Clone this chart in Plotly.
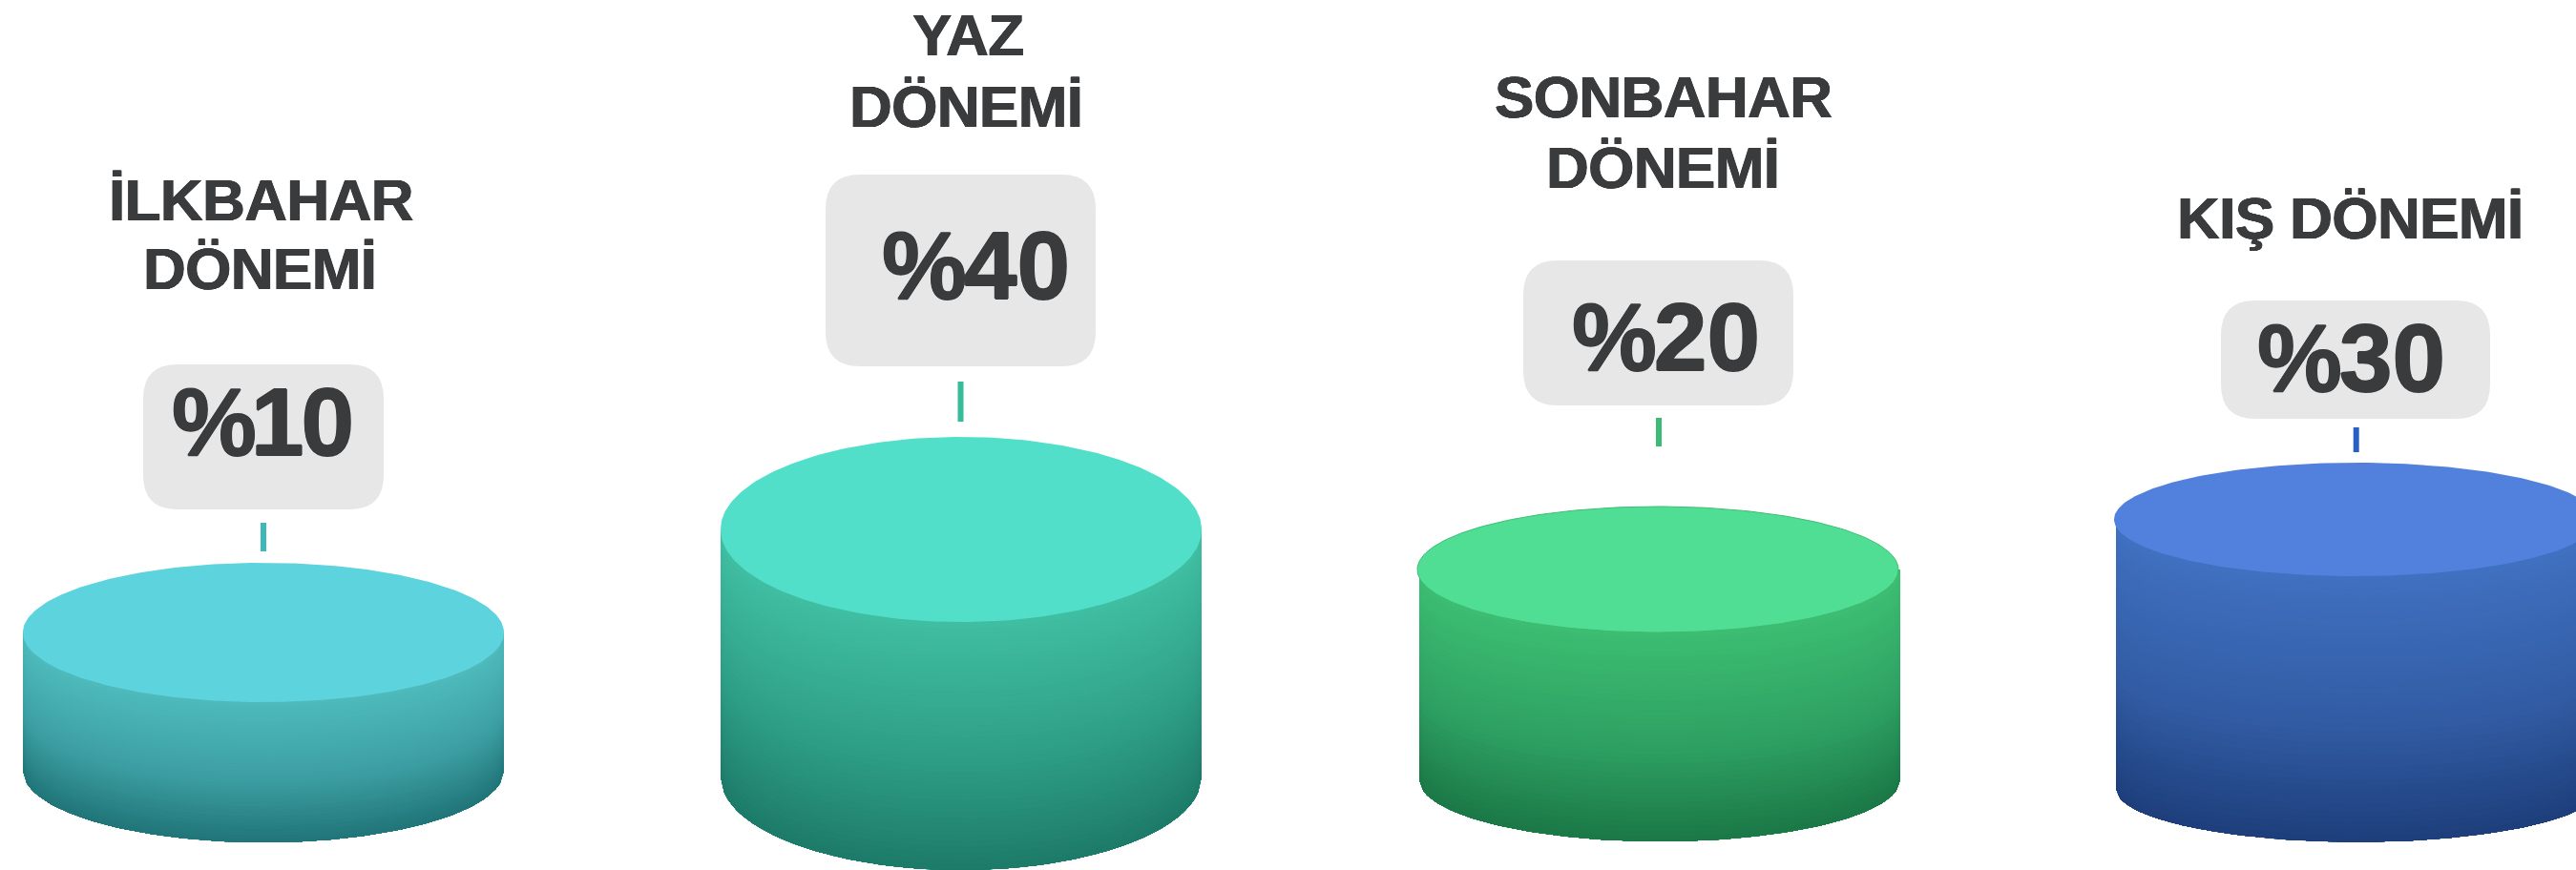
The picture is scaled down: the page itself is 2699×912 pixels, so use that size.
import numpy as np
import plotly.graph_objects as go

# --- chart content
season_lines = [["İLKBAHAR", "DÖNEMİ"], ["YAZ", "DÖNEMİ"], ["SONBAHAR", "DÖNEMİ"], ["KIŞ DÖNEMİ"]]
percent_values = [10, 40, 20, 30]
percent_labels = [f"%{v}" for v in percent_values]

# --- layout of the infographic, in page pixels (axes run 0..2699 and 912..0)
W, H = 2699, 912
top_cx = [276, 1007, 1737, 2468]
side_cx = [276, 1007, 1739, 2470]
rx = [252, 252, 252, 253]
top_cy = [663, 555, 597, 544.5]
top_ry = [73, 97, 66, 59.5]
base_cy = [807.5, 814, 817, 826.5]
base_ry = [75.5, 98, 65, 56]
box_x = [(150, 402), (865, 1148), (1596, 1879), (2327, 2609)]
box_y = [(382, 534), (183, 384), (273, 425), (315, 439)]
box_r = [36, 36, 36, 36]
tick_x = [276, 1006.5, 1738, 2468.7]
tick_y = [(548, 578), (400, 442), (438, 468), (448, 474)]
title_cx = [[273.5, 271.5], [1014.5, 1012], [1742.5, 1742], [2462]]
title_base = [[231, 303], [58, 132.5], [123, 197], [250]]
pct_cx = [275, 1022.5, 1745, 2463]
pct_base = [476.5, 313, 387.5, 410]
sign_spacing = [-6, -3, -3, -3]
digit_spacing = [-3, 0, 0, 0]
title_spacing = -0.6

top_colors = ["#5cd3dd", "#52dfca", "#50de94", "#5280dd"]
top_edge = [0, 0, 1, 0]
side_light = [(78, 186, 188), (64, 190, 162), (60, 189, 114), (64, 112, 192)]
side_mid = [(60, 158, 162), (46, 158, 134), (46, 160, 98), (50, 92, 164)]
side_dark = [(32, 116, 119), (29, 122, 105), (27, 119, 70), (29, 62, 122)]
tick_colors = ["#3fb8b8", "#37bc9b", "#3bbb76", "#2860bf"]
box_color = "#e7e7e7"
text_color = "#3a3b3d"
font_family = "Liberation Sans, Arial, sans-serif"
title_size = 62
pct_size = 100
bands = 44
title_shadow = f"0.6px 0 0 {text_color}, -0.6px 0 0 {text_color}, 0 0.4px 0 {text_color}, 0 -0.4px 0 {text_color}"
pct_shadow = f"0.8px 0 0 {text_color}, -0.8px 0 0 {text_color}, 0 0.6px 0 {text_color}, 0 -0.6px 0 {text_color}"


def mix(a, b, t):
    return tuple(a[i] + (b[i] - a[i]) * t for i in range(3))


def rounded_path(x0, x1, y0, y1, r):
    return (
        f"M{x0 + r},{y0} L{x1 - r},{y0} Q{x1},{y0} {x1},{y0 + r} "
        f"L{x1},{y1 - r} Q{x1},{y1} {x1 - r},{y1} L{x0 + r},{y1} "
        f"Q{x0},{y1} {x0},{y1 - r} L{x0},{y0 + r} Q{x0},{y0} {x0 + r},{y0} Z"
    )


def spaced(text, px):
    return f'<span style="letter-spacing:{px}px"><b>{text}</b></span>'


fig = go.Figure()
shapes = []
annotations = []

for i in range(len(percent_values)):
    # cylinder wall: crescent bands painted top to bottom so the shading follows the rim
    u = np.linspace(-1, 1, 121)
    xs = side_cx[i] + rx[i] * u
    for k in range(bands):
        t = k / (bands - 1)
        col = mix(side_light[i], side_mid[i], t / 0.55) if t < 0.55 else mix(side_mid[i], side_dark[i], (t - 0.55) / 0.45)
        cy_t = top_cy[i] + (base_cy[i] - top_cy[i]) * t
        ry_t = top_ry[i] + (base_ry[i] - top_ry[i]) * t
        y_upper = cy_t + ry_t * np.sqrt(1 - u ** 2)
        y_lower = base_cy[i] + base_ry[i] * np.sqrt(1 - u ** 2)
        if k == 0:
            y_upper = np.full_like(u, top_cy[i])
        fig.add_trace(go.Scatter(
            x=np.concatenate([xs, xs[::-1]]), y=np.concatenate([y_upper, y_lower[::-1]]),
            mode="lines", fill="toself", line=dict(width=0),
            fillcolor="rgb(%d,%d,%d)" % col, hoverinfo="skip", showlegend=False,
        ))
    # cylinder lid
    a = np.linspace(0, 2 * np.pi, 241)
    fig.add_trace(go.Scatter(
        x=top_cx[i] + rx[i] * np.cos(a), y=top_cy[i] + top_ry[i] * np.sin(a),
        mode="lines", fill="toself", line=dict(width=top_edge[i], color="rgb(%d,%d,%d)" % side_light[i]),
        fillcolor=top_colors[i],
        name=" ".join(season_lines[i]), text=percent_labels[i], hoverinfo="name+text", showlegend=False,
    ))

    shapes.append(dict(type="path", path=rounded_path(*box_x[i], *box_y[i], box_r[i]),
                       xref="x", yref="y", fillcolor=box_color, line=dict(width=0), layer="below"))
    shapes.append(dict(type="rect", xref="x", yref="y", x0=tick_x[i] - 3, x1=tick_x[i] + 3,
                       y0=tick_y[i][0], y1=tick_y[i][1], fillcolor=tick_colors[i], line=dict(width=0)))

    for line, cx, base in zip(season_lines[i], title_cx[i], title_base[i]):
        annotations.append(dict(x=cx, y=base - 0.3465 * title_size, text=spaced(line, title_spacing), showarrow=False,
                                xanchor="center", yanchor="middle", borderpad=0,
                                font=dict(family=font_family, size=title_size, color=text_color, shadow=title_shadow)))
    label = percent_labels[i]
    annotations.append(dict(x=pct_cx[i], y=pct_base[i] - 0.3465 * pct_size,
                            text=spaced(label[:1], sign_spacing[i]) + spaced(label[1], digit_spacing[i]) + spaced(label[2:], 0),
                            showarrow=False, xanchor="center", yanchor="middle", borderpad=0,
                            font=dict(family=font_family, size=pct_size, color=text_color, shadow=pct_shadow)))

fig.update_layout(
    width=W, height=H, margin=dict(l=0, r=0, t=0, b=0),
    paper_bgcolor="white", plot_bgcolor="white", showlegend=False,
    xaxis=dict(range=[0, W], visible=False, fixedrange=True),
    yaxis=dict(range=[H, 0], visible=False, fixedrange=True),
    shapes=shapes, annotations=annotations,
)
fig.write_html("out.html", post_script="document.body.style.margin='0';document.body.style.overflow='hidden';",
               config={"displayModeBar": False})
